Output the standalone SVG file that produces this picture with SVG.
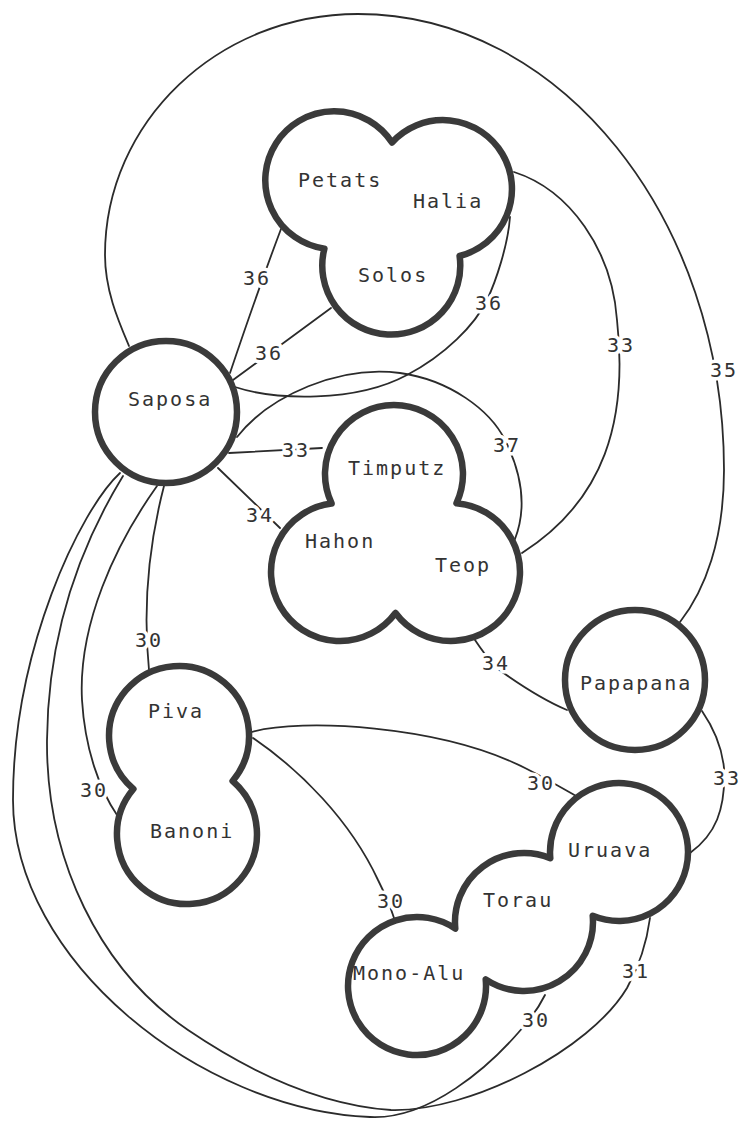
<svg xmlns="http://www.w3.org/2000/svg" width="739" height="1121" viewBox="0 0 739 1121">
<style>
.bg{fill:#ffffff}
.node{fill:#ffffff;stroke:#3a3a3a;stroke-width:6.5;stroke-linejoin:round}
.edge{fill:none;stroke:#2b2b2b;stroke-width:1.8;stroke-linecap:round}
.nl{font-family:"DejaVu Sans Mono","Liberation Mono",monospace;font-size:20px;letter-spacing:2px;fill:#333333}
.el{font-family:"DejaVu Sans Mono","Liberation Mono",monospace;font-size:20px;letter-spacing:2px;fill:#333333;stroke:#ffffff;stroke-width:7px;stroke-linejoin:round;paint-order:stroke}
</style>
<rect class="bg" x="0" y="0" width="739" height="1121"/>
<g id="connectors">
  <path id="e-saposa-papapana" class="edge" d="M129,346 C118,320 105,290 105,255 C105,122 218,14 358,14 C560,14 724,218 724,470 C724,540 705,590 680,622"/>
  <path id="e-saposa-petats" class="edge" d="M230,373 Q258,290 281,229"/>
  <path id="e-saposa-solos" class="edge" d="M233,380 L331,308"/>
  <path id="e-saposa-halia" class="edge" d="M235,387 C275,400 355,403 407,375 C445,355 475,325 487,300 C496,281 508,245 510,217"/>
  <path id="e-halia-teop" class="edge" d="M514,172 C570,190 612,250 617,320 C628,420 605,500 522,553"/>
  <path id="e-saposa-teop" class="edge" d="M237,437 C270,395 340,365 400,373 C450,380 490,410 505,440 C520,470 528,505 515,539"/>
  <path id="e-saposa-timputz" class="edge" d="M229,453 L322,448"/>
  <path id="e-saposa-hahon" class="edge" d="M218,468 L280,528"/>
  <path id="e-teop-papapana" class="edge" d="M475,640 C485,655 495,668 505,674 C525,688 548,702 567,710"/>
  <path id="e-papapana-uruava" class="edge" d="M702,711 C715,730 722,748 724,768 C726,810 715,835 690,853"/>
  <path id="e-saposa-piva" class="edge" d="M164,486 C150,540 142,600 149,670"/>
  <path id="e-saposa-banoni" class="edge" d="M157,486 C115,545 78,625 82,700 C85,750 100,790 117,815"/>
  <path id="e-piva-uruava" class="edge" d="M252,732 C300,718 440,725 525,768 C545,778 562,788 576,796"/>
  <path id="e-piva-monoalu" class="edge" d="M253,738 C300,770 350,820 378,880 C383,890 390,905 394,918"/>
  <path id="e-saposa-monoalu" class="edge" d="M120,473 C80,510 13,650 13,800 C13,960 200,1110 370,1117 C430,1120 490,1065 518,1033 C530,1020 540,1005 545,995"/>
  <path id="e-saposa-uruava" class="edge" d="M123,476 C90,530 48,620 47,740 C46,860 100,970 188,1030 C250,1072 320,1105 391,1110 C470,1112 590,1050 627,988 C637,970 646,948 650,918"/>
  <text class="el" x="243" y="285">36</text>
  <text class="el" x="255" y="360">36</text>
  <text class="el" x="475" y="310">36</text>
  <text class="el" x="607" y="352">33</text>
  <text class="el" x="710" y="377">35</text>
  <text class="el" x="493" y="452">37</text>
  <text class="el" x="282" y="457">33</text>
  <text class="el" x="246" y="522">34</text>
  <text class="el" x="482" y="670">34</text>
  <text class="el" x="713" y="785">33</text>
  <text class="el" x="135" y="647">30</text>
  <text class="el" x="80" y="797">30</text>
  <text class="el" x="527" y="790">30</text>
  <text class="el" x="377" y="908">30</text>
  <text class="el" x="622" y="978">31</text>
  <text class="el" x="522" y="1027">30</text>
</g>
<g id="node-petats-halia-solos">
  <path class="node" d="M392,142.5 A69,69 0 1 1 459.6,256 A69,69 0 1 1 324.4,248.6 A69,69 0 1 1 392,142.5 Z"/>
  <text class="nl" x="298" y="187">Petats</text>
  <text class="nl" x="413" y="208">Halia</text>
  <text class="nl" x="358" y="282">Solos</text>
</g>
<g id="node-saposa">
  <circle class="node" cx="166" cy="412" r="71"/>
  <text class="nl" x="128" y="406">Saposa</text>
</g>
<g id="node-timputz-hahon-teop">
  <path class="node" d="M331.6,503.5 A69,69 0 1 1 456.5,503.2 A69,69 0 1 1 395.5,613 A69,69 0 1 1 331.6,503.5 Z"/>
  <text class="nl" x="348" y="475">Timputz</text>
  <text class="nl" x="305" y="548">Hahon</text>
  <text class="nl" x="435" y="572">Teop</text>
</g>
<g id="node-papapana">
  <circle class="node" cx="635" cy="680" r="70"/>
  <text class="nl" x="580" y="690">Papapana</text>
</g>
<g id="node-piva-banoni">
  <path class="node" d="M133.4,789 A70,70 0 1 1 232.6,781 A70,70 0 1 1 133.4,789 Z"/>
  <text class="nl" x="148" y="718">Piva</text>
  <text class="nl" x="150" y="838">Banoni</text>
</g>
<g id="node-uruava-torau-monoalu">
  <path class="node" d="M550.3,858.2 A69,69 0 1 1 592.7,915.8 A69,69 0 0 1 485.7,979.4 A69,69 0 1 1 455.3,928.6 A69,69 0 0 1 550.3,858.2 Z"/>
  <text class="nl" x="568" y="857">Uruava</text>
  <text class="nl" x="483" y="907">Torau</text>
  <text class="nl" x="353" y="980">Mono-Alu</text>
</g>
</svg>
